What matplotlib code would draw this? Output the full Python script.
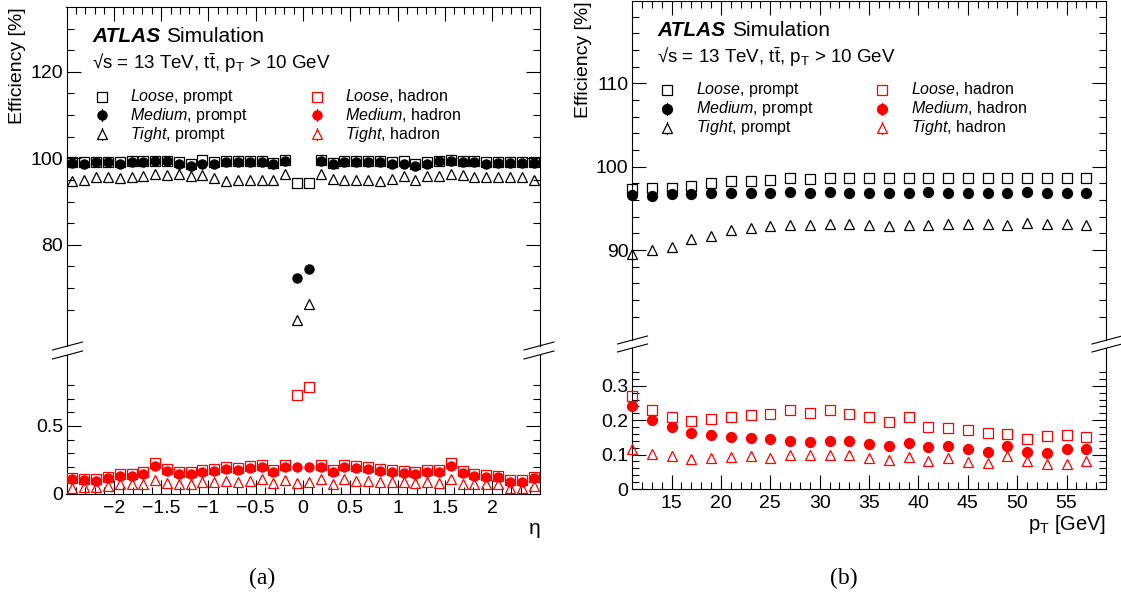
import numpy as np
import matplotlib
matplotlib.use('Agg')
import matplotlib.pyplot as plt
from matplotlib.ticker import FixedLocator, FuncFormatter

plt.rcParams['font.family'] = ['Liberation Sans', 'DejaVu Sans']
plt.rcParams['mathtext.fontset'] = 'custom'
plt.rcParams['mathtext.rm'] = 'Liberation Sans'
plt.rcParams['mathtext.it'] = 'Liberation Sans:italic'
plt.rcParams['mathtext.bf'] = 'Liberation Sans:bold'

# ---- data: panel (a), efficiency vs eta (bins of 0.125) ----
eta = [-2.4375, -2.3125, -2.1875, -2.0625, -1.9375, -1.8125, -1.6875, -1.5625,
       -1.4375, -1.3125, -1.1875, -1.0625, -0.9375, -0.8125, -0.6875, -0.5625,
       -0.4375, -0.3125, -0.1875, -0.0625, 0.0625, 0.1875, 0.3125, 0.4375,
       0.5625, 0.6875, 0.8125, 0.9375, 1.0625, 1.1875, 1.3125, 1.4375,
       1.5625, 1.6875, 1.8125, 1.9375, 2.0625, 2.1875, 2.3125, 2.4375]

loose_prompt_eta = [99.2, 99.1, 99.2, 99.2, 99.1, 99.3, 99.3, 99.5, 99.5, 99.1,
                    98.8, 99.6, 99.1, 99.4, 99.4, 99.4, 99.4, 99.0, 99.6, 94.2,
                    94.4, 99.6, 99.0, 99.3, 99.3, 99.3, 99.3, 99.2, 99.5, 98.8,
                    99.1, 99.5, 99.6, 99.4, 99.3, 99.1, 99.2, 99.2, 99.2, 99.2]
medium_prompt_eta = [99.0, 98.8, 99.1, 99.1, 98.8, 99.2, 99.2, 99.4, 99.4, 98.8,
                     98.3, 98.6, 98.8, 99.2, 99.2, 99.2, 99.2, 98.7, 99.5, 72.3,
                     74.5, 99.5, 98.7, 99.1, 99.1, 99.1, 99.1, 98.8, 98.8, 98.3,
                     98.8, 99.4, 99.5, 99.2, 99.2, 98.8, 99.0, 99.0, 99.0, 99.0]
tight_prompt_eta = [94.8, 95.0, 95.6, 95.6, 95.5, 95.8, 95.9, 96.3, 96.1, 96.3,
                    95.9, 96.1, 95.4, 94.8, 95.1, 95.1, 95.1, 95.1, 96.4, 62.5,
                    66.3, 96.4, 95.2, 95.0, 95.0, 95.0, 94.8, 95.2, 95.9, 95.1,
                    95.9, 95.9, 96.3, 96.1, 95.6, 95.8, 95.6, 95.6, 95.6, 95.0]

loose_hadron_eta = [0.118, 0.113, 0.110, 0.128, 0.145, 0.145, 0.160, 0.227, 0.185, 0.160,
                    0.160, 0.178, 0.183, 0.198, 0.190, 0.203, 0.215, 0.178, 0.210, 0.730,
                    0.786, 0.215, 0.178, 0.215, 0.203, 0.195, 0.185, 0.178, 0.166, 0.160,
                    0.178, 0.178, 0.227, 0.166, 0.148, 0.140, 0.135, 0.100, 0.100, 0.128]
medium_hadron_eta = [0.108, 0.103, 0.099, 0.116, 0.133, 0.133, 0.148, 0.209, 0.172, 0.148,
                     0.148, 0.165, 0.170, 0.185, 0.177, 0.190, 0.202, 0.165, 0.197, 0.197,
                     0.202, 0.202, 0.165, 0.202, 0.190, 0.182, 0.172, 0.165, 0.153, 0.148,
                     0.165, 0.165, 0.209, 0.153, 0.135, 0.128, 0.123, 0.089, 0.089, 0.116]
tight_hadron_eta = [0.047, 0.054, 0.054, 0.059, 0.071, 0.071, 0.071, 0.103, 0.084, 0.071,
                    0.071, 0.091, 0.091, 0.096, 0.091, 0.096, 0.108, 0.079, 0.103, 0.079,
                    0.091, 0.108, 0.074, 0.108, 0.096, 0.096, 0.091, 0.091, 0.086, 0.079,
                    0.091, 0.084, 0.108, 0.074, 0.074, 0.071, 0.071, 0.047, 0.047, 0.059]

# ---- data: panel (b), efficiency vs pT ----
pt = [11, 13, 15, 17, 19, 21, 23, 25, 27, 29, 31, 33,
      35, 37, 39, 41, 43, 45, 47, 49, 51, 53, 55, 57]

loose_prompt_pt = [97.3, 97.4, 97.5, 97.7, 98.1, 98.3, 98.3, 98.4, 98.6, 98.5, 98.6, 98.7,
                   98.7, 98.7, 98.7, 98.7, 98.7, 98.7, 98.7, 98.7, 98.7, 98.7, 98.6, 98.7]
medium_prompt_pt = [96.6, 96.5, 96.7, 96.7, 96.8, 96.9, 96.8, 96.9, 97.0, 96.9, 97.0, 96.9,
                    96.9, 96.8, 96.9, 97.0, 96.9, 96.9, 96.9, 96.9, 97.0, 96.9, 96.9, 96.9]
tight_prompt_pt = [89.5, 90.0, 90.4, 91.3, 91.7, 92.4, 92.7, 92.9, 93.0, 93.0, 93.1, 93.1,
                   93.0, 92.9, 93.0, 93.0, 93.1, 93.1, 93.1, 93.0, 93.2, 93.1, 93.1, 93.0]

loose_hadron_pt = [0.270, 0.231, 0.208, 0.197, 0.205, 0.208, 0.214, 0.217, 0.229, 0.222, 0.229, 0.219,
                   0.210, 0.195, 0.208, 0.179, 0.176, 0.173, 0.164, 0.161, 0.144, 0.155, 0.158, 0.150]
medium_hadron_pt = [0.241, 0.202, 0.179, 0.163, 0.158, 0.152, 0.149, 0.144, 0.140, 0.137, 0.140, 0.140,
                    0.130, 0.126, 0.135, 0.121, 0.125, 0.115, 0.108, 0.125, 0.108, 0.105, 0.116, 0.116]
tight_hadron_pt = [0.115, 0.103, 0.096, 0.087, 0.089, 0.092, 0.097, 0.091, 0.099, 0.099, 0.099, 0.100,
                   0.091, 0.084, 0.094, 0.082, 0.089, 0.079, 0.076, 0.097, 0.082, 0.074, 0.074, 0.082]

W, H = 1121, 599
fig = plt.figure(figsize=(W / 100, H / 100), dpi=100)


def box(x0, x1, yt, yb):
    return [x0 / W, 1 - yb / H, (x1 - x0) / W, (yb - yt) / H]


def fx(x):
    return x / W


def fy(y):
    return 1 - y / H


def num_fmt(v, pos):
    return ('%g' % v).replace('-', '\u2212')


def style_axes(ax, upper):
    ax.tick_params(which='both', direction='in', left=True, right=True,
                   top=upper, bottom=not upper, labelsize=14,
                   labelbottom=not upper, labeltop=False, width=0.8)
    ax.tick_params(which='major', length=10)
    ax.tick_params(which='minor', length=5)
    ax.tick_params(axis='y', pad=2.5)
    ax.tick_params(axis='x', pad=4)
    for s in ax.spines.values():
        s.set_linewidth(0.8)
    if upper:
        ax.spines['bottom'].set_visible(False)
    else:
        ax.spines['top'].set_visible(False)
    ax.patch.set_alpha(0)


def draw(ax, x, y, marker, color, filled, ms):
    ax.plot(x, y, linestyle='none', marker=marker, ms=ms,
            mfc=color if filled else 'none', mec=color, mew=0.9, clip_on=False, zorder=3)


def break_marks(x_left, x_right, y_up, y_low):
    for xs in (x_left, x_right):
        for yy in (y_up, y_low):
            fig.add_artist(plt.Line2D([fx(xs - 15), fx(xs + 15)], [fy(yy + 4), fy(yy - 4)],
                                      color='black', lw=0.8))


def legend(x_mk1, x_tx1, x_mk2, x_tx2, rows_mk, rows_tx, sizes):
    entries = [('s', False, 'Loose'), ('o', True, 'Medium'), ('^', False, 'Tight')]
    for (mk, filled, name), ym, yt, ms in zip(entries, rows_mk, rows_tx, sizes):
        for xm, xt, col, kind in ((x_mk1, x_tx1, 'black', 'prompt'), (x_mk2, x_tx2, 'red', 'hadron')):
            if mk != 's':
                fig.add_artist(plt.Line2D([fx(xm), fx(xm)], [fy(ym - 6), fy(ym + 6)], color=col, lw=0.8))
            fig.add_artist(plt.Line2D([fx(xm)], [fy(ym)], marker=mk, ms=ms, linestyle='none',
                                      mfc=col if filled else 'white', mec=col, mew=0.9))
            fig.text(fx(xt), fy(yt), r'$\mathit{%s}$, %s' % (name, kind), fontsize=11.5,
                     ha='left', va='baseline')


def header(x_atlas, x_sim, y_atlas, y_sqrt):
    fig.text(fx(x_atlas), fy(y_atlas), 'ATLAS', fontsize=15, fontweight='bold', fontstyle='italic',
             ha='left', va='baseline')
    fig.text(fx(x_sim), fy(y_atlas), 'Simulation', fontsize=15, ha='left', va='baseline')
    fig.text(fx(x_atlas), fy(y_sqrt), '\u221as = 13 TeV, $\\mathrm{t\\bar{t}}$, $\\mathrm{p_{T}}$ > 10 GeV',
             fontsize=13.5, ha='left', va='baseline')


# ================= panel (a) =================
ax_up = fig.add_axes(box(66.5, 539.5, 7, 346))
ax_lo = fig.add_axes(box(66.5, 539.5, 355, 494))
for ax, upper in ((ax_up, True), (ax_lo, False)):
    ax.set_xlim(-2.5, 2.5)
    ax.xaxis.set_major_locator(FixedLocator(np.arange(-2.0, 2.01, 0.5)))
    ax.xaxis.set_minor_locator(FixedLocator(np.arange(-2.4, 2.41, 0.1)))
    ax.xaxis.set_major_formatter(FuncFormatter(num_fmt))
    style_axes(ax, upper)

ax_up.set_ylim(56.6, 135.0)
ax_up.yaxis.set_major_locator(FixedLocator([80, 100, 120]))
ax_up.yaxis.set_minor_locator(FixedLocator([65, 70, 75, 85, 90, 95, 105, 110, 115, 125, 130]))
ax_up.yaxis.set_major_formatter(FuncFormatter(num_fmt))
ax_lo.set_ylim(0, 1.022)
ax_lo.yaxis.set_major_locator(FixedLocator([0, 0.5]))
ax_lo.yaxis.set_minor_locator(FixedLocator([0.1, 0.2, 0.3, 0.4, 0.6, 0.7, 0.8]))
ax_lo.yaxis.set_major_formatter(FuncFormatter(num_fmt))

draw(ax_up, eta, loose_prompt_eta, 's', 'black', False, 7.2)
draw(ax_up, eta, medium_prompt_eta, 'o', 'black', True, 6.6)
draw(ax_up, eta, tight_prompt_eta, '^', 'black', False, 6.8)
draw(ax_lo, eta, loose_hadron_eta, 's', 'red', False, 7.2)
draw(ax_lo, eta, medium_hadron_eta, 'o', 'red', True, 6.6)
draw(ax_lo, eta, tight_hadron_eta, '^', 'red', False, 6.8)

break_marks(67.5, 539, 346, 355)
header(92, 166, 42, 69)
legend(102, 129.5, 316.5, 345, [97, 115, 134], [100.7, 120, 139], [7.2, 6.6, 6.8])
fig.text(fx(18), fy(7), 'Efficiency [%]', rotation=90, ha='center', va='top', fontsize=14)
fig.text(fx(541), fy(529), '\u03b7', ha='right', va='center', fontsize=15)
fig.text(fx(262), fy(578), '(a)', ha='center', va='center', family='Liberation Serif', fontsize=17)

# ================= panel (b) =================
bx_up = fig.add_axes(box(632, 1106, 1, 340))
bx_lo = fig.add_axes(box(632, 1106, 348, 489))
for ax, upper in ((bx_up, True), (bx_lo, False)):
    ax.set_xlim(11, 59)
    ax.xaxis.set_major_locator(FixedLocator(np.arange(15, 56, 5)))
    ax.xaxis.set_minor_locator(FixedLocator(np.arange(12, 59, 1)))
    ax.xaxis.set_major_formatter(FuncFormatter(num_fmt))
    style_axes(ax, upper)

bx_up.set_ylim(79.2, 119.9)
bx_up.yaxis.set_major_locator(FixedLocator([90, 100, 110]))
bx_up.yaxis.set_minor_locator(FixedLocator(np.arange(82, 119, 2)))
bx_up.yaxis.set_major_formatter(FuncFormatter(num_fmt))
bx_lo.set_ylim(0, 0.41)
bx_lo.yaxis.set_major_locator(FixedLocator([0, 0.1, 0.2, 0.3]))
bx_lo.yaxis.set_minor_locator(FixedLocator(np.arange(0.02, 0.35, 0.02)))
bx_lo.yaxis.set_major_formatter(FuncFormatter(num_fmt))

draw(bx_up, pt, loose_prompt_pt, 's', 'black', False, 7.8)
draw(bx_up, pt, medium_prompt_pt, 'o', 'black', True, 7.2)
draw(bx_up, pt, tight_prompt_pt, '^', 'black', False, 7.4)
draw(bx_lo, pt, loose_hadron_pt, 's', 'red', False, 7.8)
draw(bx_lo, pt, medium_hadron_pt, 'o', 'red', True, 7.2)
draw(bx_lo, pt, tight_hadron_pt, '^', 'red', False, 7.4)

break_marks(632.5, 1107, 340, 348)
header(657, 732, 36, 63)
legend(667, 696, 882, 911, [90, 109, 127.5], [94.3, 113.3, 132.3], [7.8, 7.2, 7.4])
fig.text(fx(584), fy(1), 'Efficiency [%]', rotation=90, ha='center', va='top', fontsize=14)
fig.text(fx(1106), fy(524), r'$\mathrm{p_{T}}$ [GeV]', ha='right', va='center', fontsize=14.5)
fig.text(fx(844), fy(578), '(b)', ha='center', va='center', family='Liberation Serif', fontsize=17)

fig.savefig('out.png', dpi=100)
